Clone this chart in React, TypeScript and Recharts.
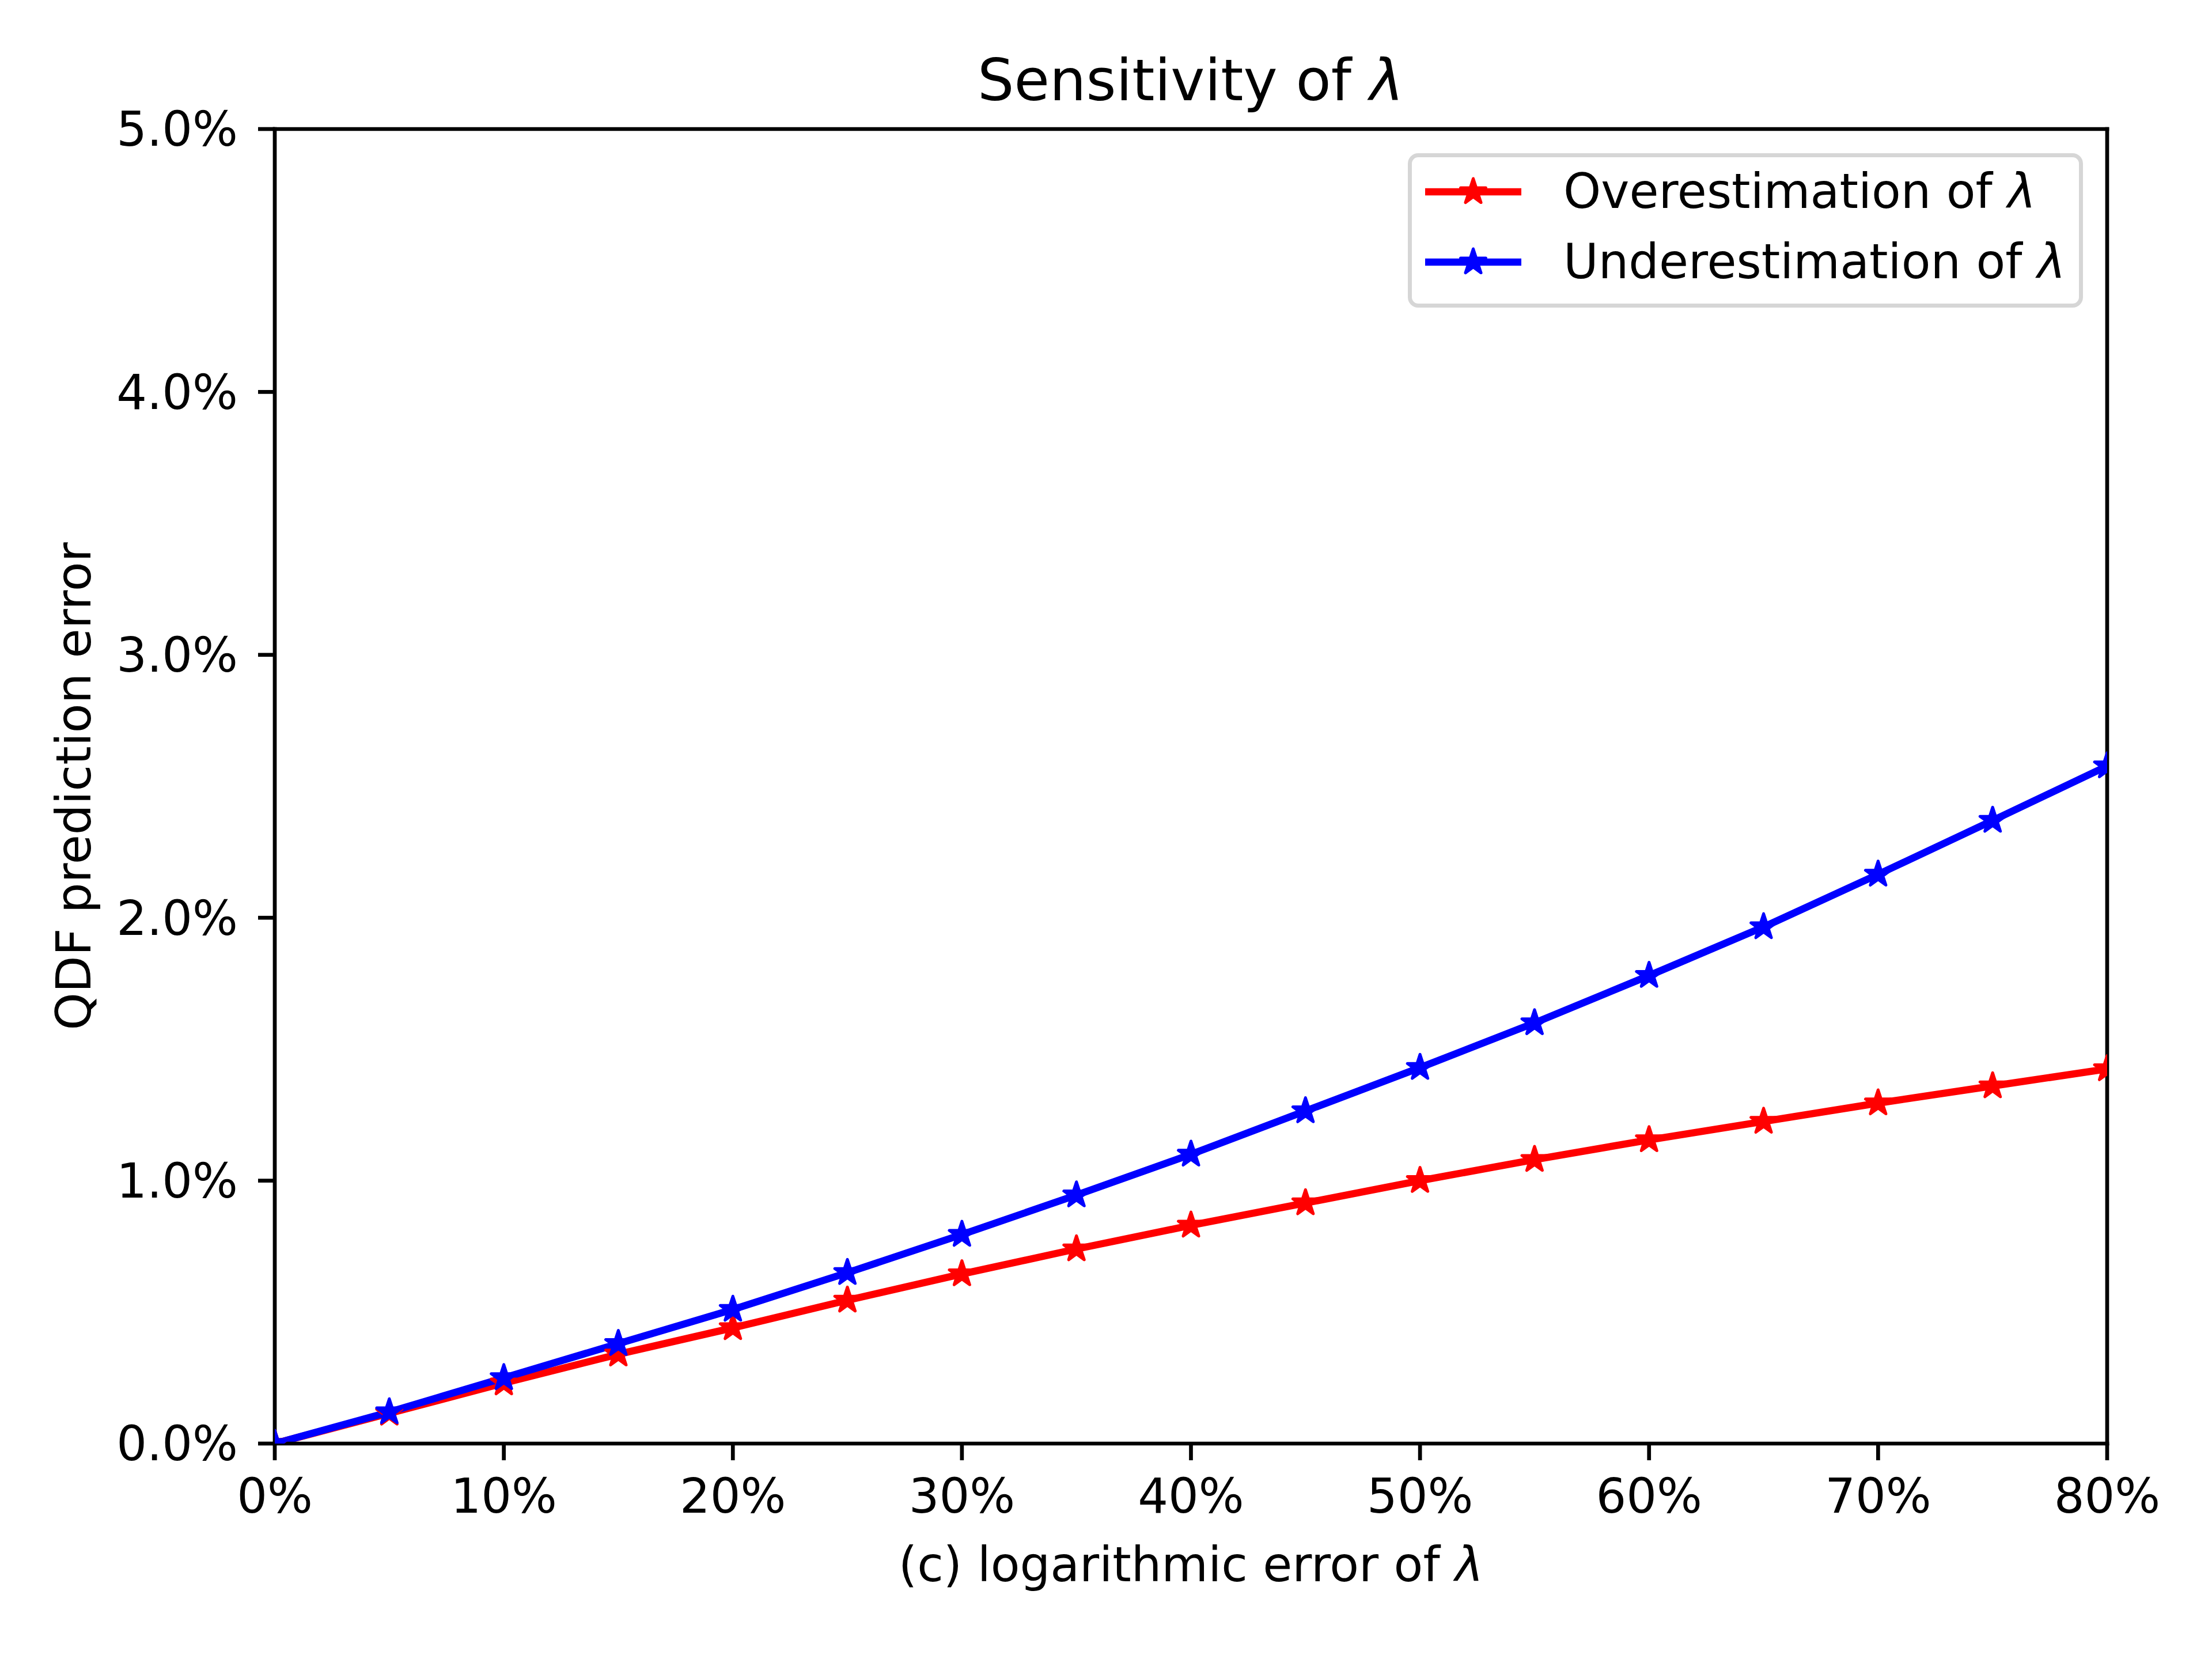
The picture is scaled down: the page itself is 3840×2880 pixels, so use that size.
import React from 'react';
import { Legend, Line, LineChart, ReferenceLine, XAxis, YAxis } from 'recharts';

// logarithmic error of lambda (%)
const errorPct = [0, 5, 10, 15, 20, 25, 30, 35, 40, 45, 50, 55, 60, 65, 70, 75, 80];
// QDF prediction error (%)
const overestimation = [
  0, 0.115, 0.23, 0.34, 0.44, 0.545, 0.645, 0.74, 0.83, 0.915, 1.0, 1.08, 1.155, 1.225, 1.295,
  1.36, 1.425,
];
const underestimation = [
  0, 0.12, 0.25, 0.38, 0.51, 0.65, 0.795, 0.945, 1.1, 1.265, 1.43, 1.6, 1.78, 1.965, 2.165, 2.37,
  2.577,
];
const xTicks = [0, 10, 20, 30, 40, 50, 60, 70, 80];
const yTicks = [0, 1, 2, 3, 4, 5];

const data = errorPct.map((x, i) => ({
  x,
  over: overestimation[i],
  under: underestimation[i],
}));

const FONT = '"DejaVu Sans", sans-serif';
const AXIS_W = 6.7;
const TICK_FONT = 83;

function starPoints(cx: number, cy: number, r: number) {
  const inner = r * 0.381966;
  const pts: string[] = [];
  for (let k = 0; k < 10; k++) {
    const rad = k % 2 === 0 ? r : inner;
    const a = -Math.PI / 2 + (k * Math.PI) / 5;
    pts.push(`${cx + rad * Math.cos(a)},${cy + rad * Math.sin(a)}`);
  }
  return pts.join(' ');
}

const makeStar = (color: string) => (props: any) => {
  const { cx, cy, index } = props;
  if (cx == null || cy == null) return <g key={`e-${index}`} />;
  return (
    <polygon
      key={`s-${color}-${index}`}
      points={starPoints(cx, cy, 23)}
      fill={color}
      stroke={color}
      strokeWidth={5}
      strokeLinejoin="round"
    />
  );
};

function withLambda(text: string) {
  const parts = text.split('λ');
  return (
    <>
      {parts[0]}
      {parts.length > 1 && <i>λ</i>}
      {parts.slice(1).join('λ')}
    </>
  );
}

function renderLegend(props: any) {
  const items = props.payload ?? [];
  return (
    <div
      style={{
        position: 'relative',
        width: 1172,
        height: 268,
        boxSizing: 'border-box',
        border: '7px solid #d6d6d6',
        borderRadius: 18,
        background: 'rgba(255,255,255,0.8)',
        fontFamily: FONT,
        fontSize: TICK_FONT,
        color: '#000',
      }}
    >
      {items.map((item: any, i: number) => {
        const mid = 60 + i * 122;
        return (
          <React.Fragment key={item.value}>
            <svg
              width={167}
              height={60}
              style={{ position: 'absolute', left: 23, top: mid - 30 }}
            >
              <line x1={0} y1={30} x2={167} y2={30} stroke={item.color} strokeWidth={12.5} />
              <polygon
                points={starPoints(83.5, 30, 23)}
                fill={item.color}
                stroke={item.color}
                strokeWidth={5}
                strokeLinejoin="round"
              />
            </svg>
            <div
              style={{
                position: 'absolute',
                left: 263,
                top: mid - 42,
                lineHeight: 1,
                whiteSpace: 'nowrap',
              }}
            >
              {withLambda(String(item.value))}
            </div>
          </React.Fragment>
        );
      })}
    </div>
  );
}

function XLabel(props: any) {
  const vb = props.viewBox ?? { x: 477, y: 2506, width: 3181 };
  return (
    <text
      x={vb.x + vb.width / 2}
      y={vb.y + 239}
      textAnchor="middle"
      fontFamily={FONT}
      fontSize={TICK_FONT}
      fill="#000"
    >
      (c) logarithmic error of <tspan fontStyle="italic">λ</tspan>
    </text>
  );
}

function YLabel(props: any) {
  const vb = props.viewBox ?? { x: 377, y: 224, width: 100, height: 2282 };
  const x = vb.x - 220;
  const y = vb.y + vb.height / 2;
  return (
    <text
      x={x}
      y={y}
      transform={`rotate(-90, ${x}, ${y})`}
      textAnchor="middle"
      fontFamily={FONT}
      fontSize={TICK_FONT}
      fill="#000"
    >
      QDF prediction error
    </text>
  );
}

export default function App() {
  const axisLine = { stroke: '#000', strokeWidth: AXIS_W, strokeLinecap: 'square' as const };
  const tickLine = { stroke: '#000', strokeWidth: AXIS_W };
  const tick = { fontSize: TICK_FONT, fill: '#000', fontFamily: FONT };

  return (
    <div style={{ position: 'relative', width: 3840, height: 2880, background: '#fff' }}>
      <style>{'body{margin:0}'}</style>
      <div
        style={{
          position: 'absolute',
          left: 1067,
          width: 2000,
          top: 90,
          textAlign: 'center',
          fontFamily: FONT,
          fontSize: 100,
          lineHeight: 1,
          color: '#000',
        }}
      >
        Sensitivity of <i>λ</i>
      </div>
      <LineChart
        width={3840}
        height={2880}
        data={data}
        margin={{ top: 224, right: 182, left: 377, bottom: 274 }}
      >
        <XAxis
          dataKey="x"
          type="number"
          domain={[0, 80]}
          ticks={xTicks}
          allowDataOverflow
          tickFormatter={(v: number) => `${v}%`}
          height={100}
          tickSize={29}
          tickMargin={32}
          axisLine={axisLine}
          tickLine={tickLine}
          tick={tick}
          stroke="#000"
          label={<XLabel />}
        />
        <YAxis
          type="number"
          domain={[0, 5]}
          ticks={yTicks}
          allowDataOverflow
          tickFormatter={(v: number) => `${v.toFixed(1)}%`}
          width={100}
          tickSize={29}
          tickMargin={35}
          axisLine={axisLine}
          tickLine={tickLine}
          tick={tick}
          stroke="#000"
          label={<YLabel />}
        />
        <ReferenceLine
          y={5}
          stroke="#000"
          strokeWidth={AXIS_W}
          strokeLinecap="square"
          ifOverflow="visible"
        />
        <ReferenceLine
          x={80}
          stroke="#000"
          strokeWidth={AXIS_W}
          strokeLinecap="square"
          ifOverflow="visible"
        />
        <Legend
          layout="horizontal"
          verticalAlign="middle"
          align="center"
          content={renderLegend}
          wrapperStyle={{ left: 2444, top: 266, width: 1172, height: 268 }}
        />
        <Line
          type="linear"
          dataKey="over"
          name="Overestimation of λ"
          stroke="#ff0000"
          strokeWidth={12.5}
          dot={makeStar('#ff0000')}
          activeDot={false}
          isAnimationActive={false}
        />
        <Line
          type="linear"
          dataKey="under"
          name="Underestimation of λ"
          stroke="#0000ff"
          strokeWidth={12.5}
          dot={makeStar('#0000ff')}
          activeDot={false}
          isAnimationActive={false}
        />
      </LineChart>
    </div>
  );
}
